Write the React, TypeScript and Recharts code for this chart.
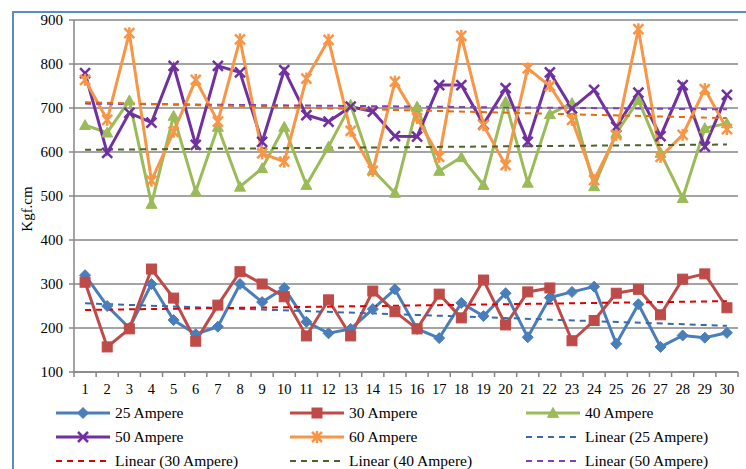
import React from 'react';
import { LineChart, Line, XAxis, YAxis, CartesianGrid } from 'recharts';

const categories = ['1','2','3','4','5','6','7','8','9','10','11','12','13','14','15','16','17','18','19','20','21','22','23','24','25','26','27','28','29','30'];

const amp25 = [320,250,200,300,218,186,203,300,259,291,214,188,198,243,288,198,177,257,227,279,179,269,282,294,164,254,157,183,178,189];
const amp30 = [304,157,198,334,268,170,252,328,300,271,182,264,182,284,237,198,277,223,309,207,282,291,171,217,279,288,230,311,323,246];
const amp40 = [661,644,717,482,682,510,657,521,563,657,525,612,707,559,507,703,557,588,525,714,530,686,711,522,643,718,598,495,654,665];
const amp50 = [779,598,689,667,796,616,796,781,623,786,684,669,703,692,636,635,752,752,663,745,623,781,699,741,657,735,636,752,612,730];
const amp60 = [764,673,870,535,646,764,669,856,597,578,767,855,648,557,760,677,589,864,661,570,790,750,673,536,639,879,589,639,743,652];

// trend line endpoints (first category, last category)
const trend25 = [256, 205];
const trend30 = [241, 261];
const trend40 = [605, 617];
const trend50 = [710, 697];
const trend60 = [713, 677];

const yTicks = [100,200,300,400,500,600,700,800,900];

const FONT = '"Liberation Serif", "Times New Roman", serif';

const C25 = '#4A7EBB';
const C30 = '#BE4B48';
const C40 = '#9BBB59';
const C50 = '#7030A0';
const C60 = '#F79646';
const T25 = '#3A6AA8';
const T30 = '#E00000';
const T40 = '#4F6228';
const T50 = '#8040B8';
const T60 = '#E46C0A';

const trendRow = (arr: number[], i: number) => (i === 0 ? arr[0] : i === categories.length - 1 ? arr[1] : null);

const data = categories.map((c, i) => ({
  name: c,
  a25: amp25[i],
  a30: amp30[i],
  a40: amp40[i],
  a50: amp50[i],
  a60: amp60[i],
  t25: trendRow(trend25, i),
  t30: trendRow(trend30, i),
  t40: trendRow(trend40, i),
  t50: trendRow(trend50, i),
  t60: trendRow(trend60, i),
}));

type Shape = 'diamond' | 'square' | 'triangle' | 'x' | 'star';

const Marker = ({ cx, cy, shape, color }: { cx: number; cy: number; shape: Shape; color: string }) => {
  if (cx == null || cy == null) return null;
  if (shape === 'diamond') {
    const r = 5.5;
    return <polygon points={`${cx},${cy - r} ${cx + r},${cy} ${cx},${cy + r} ${cx - r},${cy}`} fill={color} stroke={color} strokeWidth={1} />;
  }
  if (shape === 'square') {
    const r = 5;
    return <rect x={cx - r} y={cy - r} width={2 * r} height={2 * r} fill={color} stroke={color} strokeWidth={1} />;
  }
  if (shape === 'triangle') {
    const r = 5.5;
    return <polygon points={`${cx},${cy - r} ${cx + r},${cy + r * 0.8} ${cx - r},${cy + r * 0.8}`} fill={color} stroke={color} strokeWidth={1} />;
  }
  if (shape === 'x') {
    const r = 5;
    return (
      <g stroke={color} strokeWidth={2.5}>
        <line x1={cx - r} y1={cy - r} x2={cx + r} y2={cy + r} />
        <line x1={cx - r} y1={cy + r} x2={cx + r} y2={cy - r} />
      </g>
    );
  }
  const r = 5;
  return (
    <g stroke={color} strokeWidth={2.5}>
      <line x1={cx - r} y1={cy - r} x2={cx + r} y2={cy + r} />
      <line x1={cx - r} y1={cy + r} x2={cx + r} y2={cy - r} />
      <line x1={cx} y1={cy - r - 1} x2={cx} y2={cy + r + 1} />
    </g>
  );
};

const makeDot = (shape: Shape, color: string) => (props: any) => (
  <Marker key={`${shape}-${props.index}`} cx={props.cx} cy={props.cy} shape={shape} color={color} />
);

const PLOT_LEFT = 74;
const PLOT_RIGHT = 738;
const BAND = (PLOT_RIGHT - PLOT_LEFT) / categories.length;

const XTick = (props: any) => {
  const { x, y, payload, index } = props;
  const ay = y - 8;
  return (
    <g>
      <line x1={x - BAND / 2} y1={ay} x2={x - BAND / 2} y2={ay + 5} stroke="#868686" strokeWidth={1.5} />
      {index === categories.length - 1 && (
        <line x1={x + BAND / 2} y1={ay} x2={x + BAND / 2} y2={ay + 5} stroke="#868686" strokeWidth={1.5} />
      )}
      <text x={x} y={ay + 22} textAnchor="middle" fontFamily={FONT} fontSize={14.5} fill="#000">
        {payload.value}
      </text>
    </g>
  );
};

const YLabel = () => (
  <text x={29} y={209} transform="rotate(-90, 29, 209)" textAnchor="middle" dominantBaseline="middle" fontFamily={FONT} fontSize={15} fill="#000">
    Kgf.cm
  </text>
);

const legendItems: { label: string; color: string; shape?: Shape; dashed?: boolean }[] = [
  { label: '25 Ampere', color: C25, shape: 'diamond' },
  { label: '30 Ampere', color: C30, shape: 'square' },
  { label: '40 Ampere', color: C40, shape: 'triangle' },
  { label: '50 Ampere', color: C50, shape: 'x' },
  { label: '60 Ampere', color: C60, shape: 'star' },
  { label: 'Linear (25 Ampere)', color: T25, dashed: true },
  { label: 'Linear (30 Ampere)', color: T30, dashed: true },
  { label: 'Linear (40 Ampere)', color: T40, dashed: true },
  { label: 'Linear (50 Ampere)', color: T50, dashed: true },
];

const colX = [56, 290, 526];
const rowY = [413, 437, 461];

const Legend = () => (
  <svg width={746} height={469} style={{ position: 'absolute', left: 0, top: 0, pointerEvents: 'none' }}>
    {legendItems.map((it, i) => {
      const x = colX[i % 3];
      const y = rowY[Math.floor(i / 3)];
      return (
        <g key={it.label}>
          {it.dashed ? (
            <line x1={x} y1={y} x2={x + 50} y2={y} stroke={it.color} strokeWidth={2} strokeDasharray="6 5" />
          ) : (
            <>
              <line x1={x} y1={y} x2={x + 54} y2={y} stroke={it.color} strokeWidth={3} />
              <Marker cx={x + 27} cy={y} shape={it.shape as Shape} color={it.color} />
            </>
          )}
          <text x={x + 59} y={y + 5} fontFamily={FONT} fontSize={15.5} fill="#000">
            {it.label}
          </text>
        </g>
      );
    })}
  </svg>
);

export default function App() {
  return (
    <div style={{ position: 'absolute', left: 0, top: 0, width: 746, height: 469, background: '#fff', overflow: 'hidden' }}>
      <div style={{ position: 'absolute', left: 12, top: 11, width: 800, height: 600, border: '2px solid #5B8BC9', boxSizing: 'border-box' }} />
      <LineChart width={746} height={469} data={data} margin={{ top: 20, right: 8, left: 0, bottom: 67 }}>
        <CartesianGrid vertical={false} stroke="#868686" strokeWidth={1.5} />
        <XAxis
          dataKey="name"
          height={30}
          padding={{ left: BAND / 2, right: BAND / 2 }}
          axisLine={{ stroke: '#868686', strokeWidth: 1.5 }}
          tickLine={false}
          interval={0}
          tick={<XTick />}
        />
        <YAxis
          width={74}
          domain={[100, 900]}
          ticks={yTicks}
          interval={0}
          axisLine={{ stroke: '#868686', strokeWidth: 1.5 }}
          tickLine={{ stroke: '#868686', strokeWidth: 1.5 }}
          tickSize={5}
          tickMargin={6}
          tick={{ fontFamily: FONT, fontSize: 15, fill: '#000' }}
          label={<YLabel />}
        />
        <Line dataKey="a25" stroke={C25} strokeWidth={3} dot={makeDot('diamond', C25)} isAnimationActive={false} />
        <Line dataKey="a30" stroke={C30} strokeWidth={3} dot={makeDot('square', C30)} isAnimationActive={false} />
        <Line dataKey="a40" stroke={C40} strokeWidth={3} dot={makeDot('triangle', C40)} isAnimationActive={false} />
        <Line dataKey="a50" stroke={C50} strokeWidth={3} dot={makeDot('x', C50)} isAnimationActive={false} />
        <Line dataKey="a60" stroke={C60} strokeWidth={3} dot={makeDot('star', C60)} isAnimationActive={false} />
        <Line dataKey="t25" stroke={T25} strokeWidth={2} strokeDasharray="6 5" dot={false} connectNulls isAnimationActive={false} />
        <Line dataKey="t30" stroke={T30} strokeWidth={2} strokeDasharray="6 5" dot={false} connectNulls isAnimationActive={false} />
        <Line dataKey="t40" stroke={T40} strokeWidth={2} strokeDasharray="6 5" dot={false} connectNulls isAnimationActive={false} />
        <Line dataKey="t50" stroke={T50} strokeWidth={2} strokeDasharray="6 5" dot={false} connectNulls isAnimationActive={false} />
        <Line dataKey="t60" stroke={T60} strokeWidth={2} strokeDasharray="6 5" dot={false} connectNulls isAnimationActive={false} />
      </LineChart>
      <Legend />
    </div>
  );
}
